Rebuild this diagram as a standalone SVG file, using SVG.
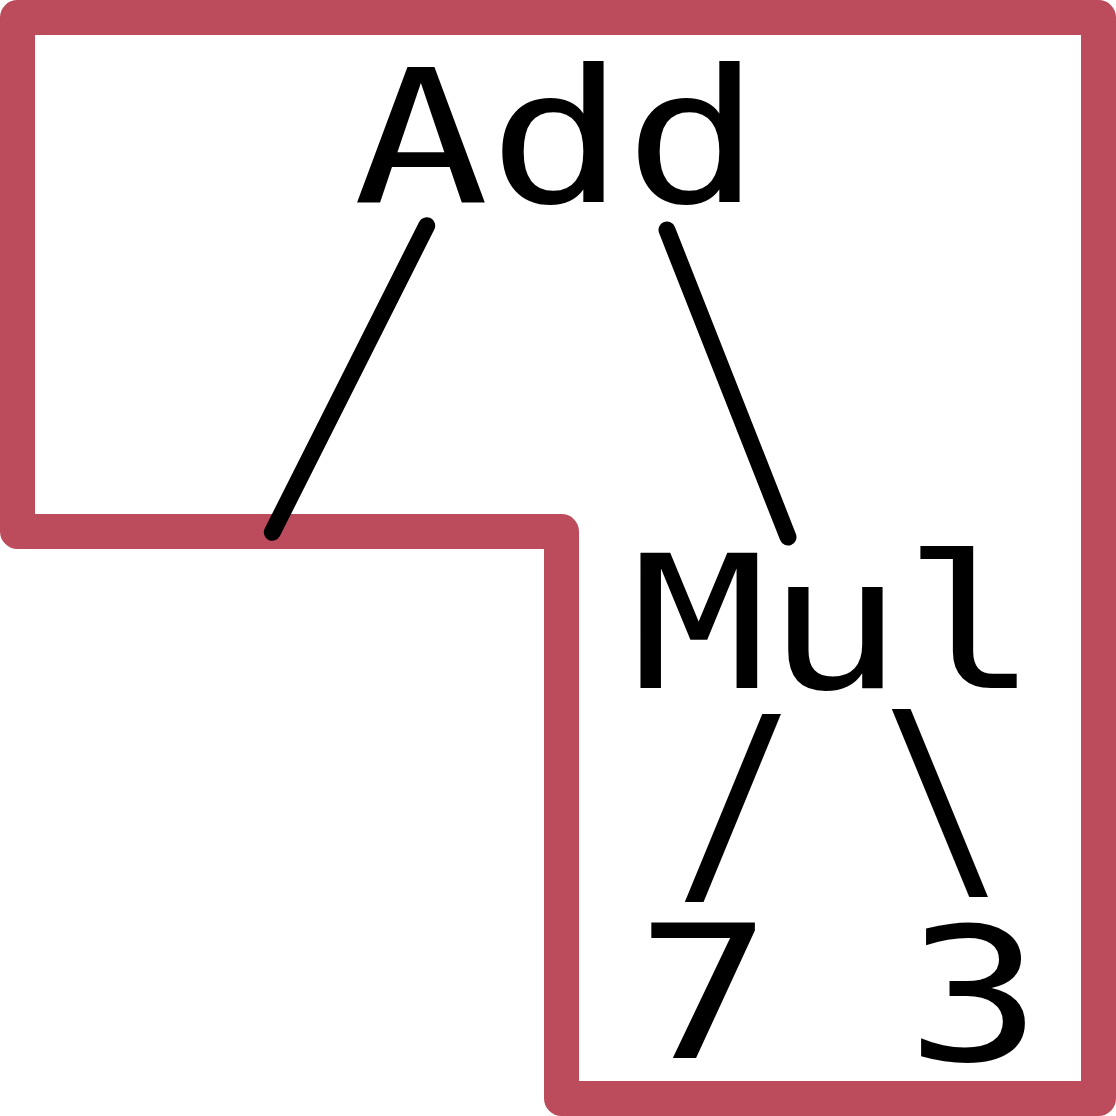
<svg xmlns="http://www.w3.org/2000/svg" width="1116" height="1116" viewBox="0 0 1116 1116">
<style>
.lbl{font-family:"DejaVu Sans Mono","Liberation Mono",monospace;font-size:185px;fill:#000}
.sl{font-family:"DejaVu Sans Mono","Liberation Mono",monospace;font-size:229px;fill:#000;text-anchor:middle}
.edge{stroke:#000;stroke-width:17;stroke-linecap:round;fill:none}
.region{fill:none;stroke:#bc4b5c;stroke-width:35;stroke-linejoin:round}
</style>
<rect width="1116" height="1116" fill="#fff"/>
<g id="region">
<polygon class="region" points="17.5,17.5 1098.5,17.5 1098.5,1098.5 561.5,1098.5 561.5,531.5 17.5,531.5"/>
</g>
<g id="node-add"><text class="lbl" transform="translate(353,202) scale(1.22,1)" x="0" y="0">Add</text></g>
<g id="node-mul"><text class="lbl" transform="translate(631,688) scale(1.22,1)" x="0" y="0">Mul</text></g>
<g id="node-7"><text class="lbl" transform="translate(636,1058) scale(1.22,1)" x="0" y="0">7</text></g>
<g id="node-3"><text class="lbl" transform="translate(906,1060) scale(1.22,1)" x="0" y="0">3</text></g>
<g id="connectors">
<line class="edge" x1="426.7" y1="225.7" x2="272.3" y2="532.3"/>
<line class="edge" x1="667" y1="230" x2="788" y2="537"/>
<text class="sl" transform="translate(735.5,881) scale(0.88,1)" x="0" y="0">/</text>
<text class="sl" transform="translate(942.5,876) scale(0.88,1)" x="0" y="0">\</text>
</g>
</svg>
